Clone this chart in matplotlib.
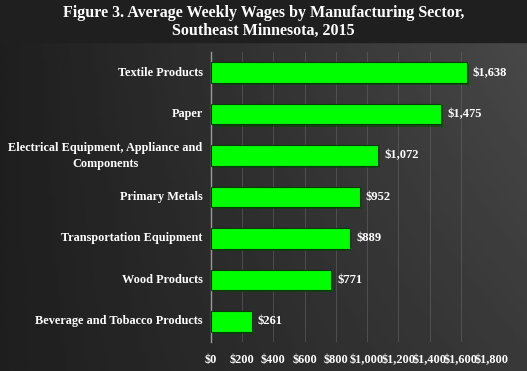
import numpy as np
import matplotlib
matplotlib.use("Agg")
import matplotlib.pyplot as plt
import matplotlib.ticker as mticker
import matplotlib.patheffects as pe
import matplotlib.transforms as mtrans

# ── Data ──────────────────────────────────────────────────────────────────────
SECTORS = [
    "Textile Products",
    "Paper",
    "Electrical Equipment, Appliance and\nComponents",
    "Primary Metals",
    "Transportation Equipment",
    "Wood Products",
    "Beverage and Tobacco Products",
]
WAGES = [1638, 1475, 1072, 952, 889, 771, 261]
X_TICKS = [0, 200, 400, 600, 800, 1000, 1200, 1400, 1600, 1800]

TITLE = "Figure 3. Average Weekly Wages by Manufacturing Sector,\nSoutheast Minnesota, 2015"

plt.rcParams["font.family"] = ["Liberation Serif", "DejaVu Serif"]
plt.rcParams["font.weight"] = "bold"

fig = plt.figure(figsize=(5.27, 3.71), dpi=100)

# background gradient (dark left, lighter toward the right)
bg = fig.add_axes([0, 0, 1, 1], zorder=-10)
gx, gy = np.meshgrid(np.linspace(0, 1, 200), np.linspace(0, 1, 200))
shade = 0.12 + 0.17 * gx * (0.6 + 0.4 * (1 - gy))
bg.imshow(shade, cmap="gray", vmin=0, vmax=1, aspect="auto",
          extent=[0, 1, 0, 1], origin="upper")
bg.axhspan(1 - 42 / 371, 1, color="#1f1f1f")
bg.set_xlim(0, 1)
bg.set_ylim(0, 1)
bg.axis("off")

ax = fig.add_axes([211 / 527, 1 - 342 / 371, 281 / 527, 290 / 371])
ax.patch.set_alpha(0)

y = np.arange(len(SECTORS))
bars = ax.barh(y, WAGES, height=0.5, color="#00ff00", edgecolor="#0a3a0a",
               linewidth=0.8, zorder=3)
for b in bars:
    b.set_path_effects([pe.SimplePatchShadow(offset=(1.5, -1.5), alpha=0.6),
                        pe.Normal()])

for yi, val in zip(y, WAGES):
    ax.text(val + 40, yi, f"${val:,}", va="center", ha="left",
            color="white", fontsize=9, fontweight="bold")

ax.set_ylim(len(SECTORS) - 0.5, -0.5)
ax.set_xlim(0, 1800)
ax.set_xticks(X_TICKS)
ax.xaxis.set_major_formatter(mticker.FuncFormatter(lambda v, _: f"${v:,.0f}"))
ax.set_yticks(y)
ax.set_yticklabels([])
ax.tick_params(axis="both", length=0, colors="white", labelsize=8.8)
ax.tick_params(axis="x", pad=9)

# category labels drawn by hand so the two-line one is centred
lab_tr = mtrans.offset_copy(ax.get_yaxis_transform(), fig=fig, x=-6, y=0,
                            units="points")
for yi, name in zip(y, SECTORS):
    ax.text(0, yi, name, transform=lab_tr, ha="right", va="center",
            multialignment="center", linespacing=1.45,
            color="white", fontsize=8.8, fontweight="bold")

ax.xaxis.grid(True, color="#6a6a6a", linewidth=0.6, alpha=0.6, zorder=0)
ax.set_axisbelow(True)
for s in ["top", "right", "bottom"]:
    ax.spines[s].set_visible(False)
ax.spines["left"].set_color("#9a9a9a")
ax.spines["left"].set_linewidth(1.0)

fig.text(0.5, 1 - 22 / 371, TITLE, ha="center", va="center", color="white",
         fontsize=11.5, fontweight="bold", linespacing=1.2)

fig.savefig("out.png", dpi=100)
